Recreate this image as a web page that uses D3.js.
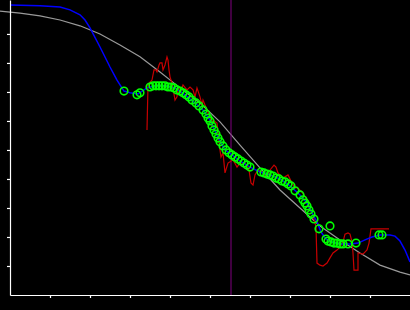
<!DOCTYPE html>
<html>
<head>
<meta charset="utf-8">
<script src="https://cdn.jsdelivr.net/npm/d3@7"></script>
<style>
  html, body { margin: 0; padding: 0; background: #000; }
  svg { display: block; }
</style>
</head>
<body>
<div id="chart"></div>
<script>
// tick positions (no labels on this chart)
var xTicks = [1, 2, 3, 4, 5, 6, 7, 8, 9];
var yTicks = [1, 2, 3, 4, 5, 6, 7, 8, 9];

// smooth gray reference curve
var grayX = [-0.25, 0.25, 0.75, 1.25, 1.75, 2.25, 2.75, 3.25, 3.75, 4.25, 4.75, 5.25, 5.75, 6.25, 6.75, 7.25, 7.75, 8.25, 8.75, 9.25, 9.75, 10];
var grayY = [9.79, 9.72, 9.62, 9.48, 9.28, 9.0, 8.62, 8.21, 7.69, 7.14, 6.62, 5.97, 5.17, 4.38, 3.62, 3.0, 2.38, 1.90, 1.45, 1.03, 0.79, 0.69];

// blue fitted line
var blueX = [0, 0.75, 1.25, 1.5, 1.75, 1.875, 2.0, 2.25, 2.5, 2.675, 2.85, 3.0, 3.2, 3.425, 3.625, 3.875, 4.125, 4.375, 4.625, 4.825, 5.0, 5.125, 5.25, 5.375, 5.55, 5.75, 6.0, 6.25, 6.5, 6.75, 7.0, 7.25, 7.425, 7.55, 7.675, 7.775, 7.9, 8.05, 8.25, 8.5, 8.7, 8.875, 9.05, 9.25, 9.5, 9.625, 9.75, 9.875, 10];
var blueY = [10.0, 9.97, 9.93, 9.83, 9.66, 9.48, 9.21, 8.55, 7.86, 7.41, 7.03, 6.97, 6.93, 7.14, 7.21, 7.21, 7.14, 6.90, 6.62, 6.38, 6.03, 5.66, 5.31, 5.0, 4.83, 4.62, 4.41, 4.24, 4.14, 4.0, 3.76, 3.45, 3.17, 2.83, 2.52, 2.17, 1.93, 1.83, 1.76, 1.76, 1.79, 1.90, 2.0, 2.07, 2.07, 2.03, 1.86, 1.55, 1.14];

// red raw signal
var redX = [3.425, 3.45, 3.5, 3.55, 3.6, 3.65, 3.675, 3.725, 3.75, 3.8, 3.825, 3.875, 3.925, 3.95, 3.975, 4.0, 4.05, 4.075, 4.125, 4.175, 4.2, 4.25, 4.325, 4.425, 4.5, 4.575, 4.625, 4.675, 4.75, 4.8, 4.825, 4.925, 5.0, 5.05, 5.075, 5.175, 5.25, 5.275, 5.325, 5.375, 5.45, 5.575, 5.675, 5.75, 5.875, 5.975, 6.025, 6.075, 6.125, 6.2, 6.3, 6.4, 6.5, 6.6, 6.65, 6.7, 6.825, 6.95, 7.05, 7.125, 7.175, 7.3, 7.425, 7.5, 7.575, 7.65, 7.675, 7.75, 7.825, 7.925, 8.0, 8.075, 8.175, 8.25, 8.325, 8.375, 8.45, 8.5, 8.55, 8.575, 8.6, 8.7, 8.7, 8.825, 8.925, 8.975, 9.025, 9.475];
var redY = [5.69, 7.24, 7.34, 7.41, 7.76, 7.76, 7.69, 7.93, 8.0, 8.0, 7.76, 7.93, 8.21, 8.10, 7.76, 7.52, 7.31, 7.14, 6.72, 6.83, 7.17, 6.97, 7.24, 7.07, 7.17, 7.07, 6.83, 7.14, 6.83, 6.55, 6.72, 6.38, 6.14, 5.79, 6.03, 5.93, 5.0, 4.76, 4.90, 4.21, 4.55, 4.66, 4.41, 4.55, 4.55, 4.31, 3.86, 3.79, 4.14, 4.31, 4.24, 4.07, 4.31, 4.48, 4.41, 4.21, 4.03, 4.14, 3.86, 3.69, 3.72, 3.55, 3.28, 2.93, 2.76, 2.34, 1.10, 1.03, 1.0, 1.10, 1.28, 1.45, 1.55, 1.66, 1.83, 2.10, 2.14, 2.10, 1.83, 1.45, 0.86, 0.86, 1.45, 1.41, 1.55, 1.79, 2.28, 2.28];

// green sample points
var ptX = [2.85, 3.175, 3.25, 3.5, 3.575, 3.65, 3.725, 3.8, 3.875, 3.95, 4.025, 4.1, 4.175, 4.25, 4.325, 4.4, 4.475, 4.55, 4.65, 4.725, 4.825, 4.9, 4.95, 5.0, 5.05, 5.1, 5.15, 5.2, 5.25, 5.325, 5.4, 5.475, 5.55, 5.625, 5.7, 5.775, 5.85, 5.925, 6.0, 6.275, 6.35, 6.425, 6.5, 6.575, 6.65, 6.725, 6.8, 6.875, 6.95, 7.025, 7.125, 7.25, 7.325, 7.375, 7.425, 7.475, 7.525, 7.6, 7.725, 8.0, 7.9, 7.95, 8.025, 8.1, 8.175, 8.25, 8.325, 8.45, 8.65, 9.225, 9.3];
var ptY = [7.03, 6.90, 6.97, 7.17, 7.21, 7.21, 7.21, 7.21, 7.21, 7.17, 7.17, 7.14, 7.07, 7.03, 6.97, 6.90, 6.83, 6.72, 6.62, 6.52, 6.38, 6.24, 6.10, 6.0, 5.83, 5.69, 5.55, 5.41, 5.28, 5.14, 5.0, 4.90, 4.83, 4.76, 4.69, 4.62, 4.55, 4.48, 4.41, 4.24, 4.21, 4.17, 4.14, 4.10, 4.03, 4.0, 3.93, 3.90, 3.83, 3.76, 3.59, 3.45, 3.28, 3.17, 3.07, 2.93, 2.79, 2.62, 2.28, 2.38, 1.93, 1.86, 1.83, 1.79, 1.79, 1.76, 1.76, 1.76, 1.79, 2.07, 2.07];

// vertical marker
var markerX = 5.525;

var width = 410, height = 310;
var margin = {top: 0, right: 0, bottom: 15, left: 10};

var svg = d3.select("#chart")
  .append("svg")
    .attr("width", width)
    .attr("height", height)
    .style("background", "#000");

var x = d3.scaleLinear()
  .domain([0, 10])
  .range([margin.left, width - margin.right]);
var y = d3.scaleLinear()
  .domain([0, 10.17])
  .range([height - margin.bottom, margin.top]);

function zip(xs, ys) {
  return xs.map(function(d, i) { return [d, ys[i]]; });
}

var line = d3.line()
  .x(function(d) { return x(d[0]); })
  .y(function(d) { return y(d[1]); });

// gray curve
svg.append("path")
  .datum(zip(grayX, grayY))
  .attr("fill", "none")
  .attr("stroke", "#9a9a9a")
  .attr("stroke-width", 1.2)
  .attr("d", line);

// purple marker
svg.append("line")
  .attr("x1", x(markerX)).attr("x2", x(markerX))
  .attr("y1", y.range()[1]).attr("y2", y(0))
  .attr("stroke", "#800080")
  .attr("stroke-width", 1);

// red signal
svg.append("path")
  .datum(zip(redX, redY))
  .attr("fill", "none")
  .attr("stroke", "#c80000")
  .attr("stroke-width", 1.2)
  .attr("d", line);

// blue line
svg.append("path")
  .datum(zip(blueX, blueY))
  .attr("fill", "none")
  .attr("stroke", "#0000ff")
  .attr("stroke-width", 1.5)
  .attr("d", line);

// green circles
svg.append("g")
  .selectAll("circle")
  .data(zip(ptX, ptY))
  .join("circle")
    .attr("cx", function(d) { return x(d[0]); })
    .attr("cy", function(d) { return y(d[1]); })
    .attr("r", 3.8)
    .attr("fill", "none")
    .attr("stroke", "#00ff00")
    .attr("stroke-width", 1.6);

// axes
var xAxis = svg.append("g")
  .attr("transform", "translate(0," + y(0) + ")")
  .call(d3.axisBottom(x).tickValues(xTicks).tickSize(3).tickSizeOuter(0).tickFormat(""));
var yAxis = svg.append("g")
  .attr("transform", "translate(" + x(0) + ",0)")
  .call(d3.axisLeft(y).tickValues(yTicks).tickSize(3).tickSizeOuter(0).tickFormat(""));

svg.selectAll(".domain").attr("stroke", "#fff").attr("stroke-width", 1.2);
svg.selectAll(".tick line").attr("stroke", "#fff").attr("stroke-width", 1.2);
</script>
</body>
</html>
